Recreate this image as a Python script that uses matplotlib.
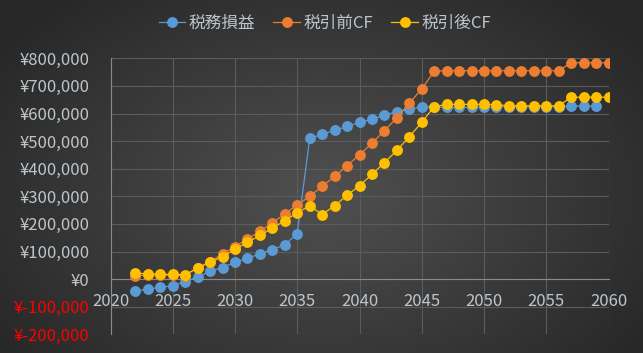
import numpy as np
import matplotlib
matplotlib.use("Agg")
import matplotlib.pyplot as plt
from matplotlib.ticker import FuncFormatter

plt.rcParams['font.family'] = ['Noto Sans CJK JP', 'DejaVu Sans']

years_a = list(range(2022, 2061))
years_b = list(range(2022, 2060))

tax_pl = [-44000, -36000, -30000, -24000, -10000, 8000, 28000, 42000, 61000, 75000,
          92000, 107000, 124000, 165000, 510000, 524000, 539000, 553000, 568000, 579000,
          594000, 607000, 615000, 625000, 624000, 622000, 622000, 623000, 624000, 624000,
          624000, 624000, 624000, 624000, 624000, 627000, 627000, 627000]
cf_pre = [13000, 14000, 14000, 14000, 13000, 42000, 63000, 91000, 118000, 145000,
          173000, 204000, 236000, 269000, 300000, 336000, 372000, 411000, 451000, 492000,
          538000, 584000, 637000, 689000, 753000, 755000, 755000, 755000, 755000, 755000,
          755000, 755000, 755000, 755000, 755000, 784000, 784000, 784000, 784000]
cf_post = [22000, 19000, 18000, 17000, 16000, 40000, 61000, 81000, 109000, 133000,
           158000, 184000, 212000, 240000, 266000, 234000, 266000, 303000, 339000, 379000,
           422000, 466000, 516000, 568000, 625000, 633000, 633000, 633000, 633000, 632000,
           628000, 628000, 628000, 628000, 628000, 659000, 659000, 659000, 659000]

labels = ['税務損益', '税引前CF', '税引後CF']
colors = ['#5B9BD5', '#ED7D31', '#FFC000']
text_color = '#BDC6CC'

W, H = 643, 353
fig = plt.figure(figsize=(W / 100, H / 100), dpi=100)

# radial gradient background
bg = fig.add_axes([0, 0, 1, 1])
yy, xx = np.mgrid[0:H, 0:W]
cx, cy = W * 0.5, H * 0.55
r = np.sqrt(((xx - cx) / (W * 0.62)) ** 2 + ((yy - cy) / (H * 0.75)) ** 2)
r = np.clip(r, 0, 1)
inner = np.array([0x50, 0x50, 0x50]) / 255
outer = np.array([0x27, 0x27, 0x27]) / 255
img = inner[None, None, :] * (1 - r[..., None]) + outer[None, None, :] * r[..., None]
bg.imshow(img, aspect='auto', extent=[0, 1, 0, 1])
bg.axis('off')

ax = fig.add_axes([110.5 / W, 1 - 334.3 / H, 498 / W, (334.3 - 58.3) / H])
ax.set_facecolor('none')

for ys, xs, c, lab, z in [(tax_pl, years_b, colors[0], labels[0], 3),
                          (cf_pre, years_a, colors[1], labels[1], 4),
                          (cf_post, years_a, colors[2], labels[2], 5)]:
    ax.plot(xs, ys, color=c, lw=0.9, marker='o', ms=6.8, mec=c, label=lab, zorder=z)

ax.set_xlim(2020, 2060)
ax.set_ylim(-200000, 800000)
ax.set_xticks(range(2020, 2061, 5))
ax.set_yticks(range(-200000, 800001, 100000))

def yfmt(v, p):
    v = int(round(v))
    if v < 0:
        return '¥-{:,}'.format(-v)
    return '¥{:,}'.format(v)

ax.yaxis.set_major_formatter(FuncFormatter(yfmt))

ax.grid(True, color='#5c5c5c', lw=0.8)
ax.set_axisbelow(True)
for s in ['top', 'right']:
    ax.spines[s].set_visible(False)
ax.spines['left'].set_color('#8a8a8a')
ax.spines['left'].set_linewidth(0.8)
ax.spines['bottom'].set_position(('data', 0))
ax.spines['bottom'].set_color('#8a8a8a')
ax.spines['bottom'].set_linewidth(0.8)

ax.tick_params(axis='both', length=0, labelsize=12, colors=text_color)
ax.tick_params(axis='x', pad=10)
ax.tick_params(axis='y', pad=15)

fig.canvas.draw()
for t in ax.get_yticklabels():
    if t.get_text().startswith('¥-'):
        t.set_color('#FF0000')

leg = fig.legend(loc='upper center', bbox_to_anchor=(0.505, 1.0), ncol=3, frameon=False,
                 fontsize=12, labelcolor=text_color, handlelength=1.6, columnspacing=1.1,
                 handletextpad=0.2, markerscale=1.0)

fig.savefig('out.png', dpi=100)
